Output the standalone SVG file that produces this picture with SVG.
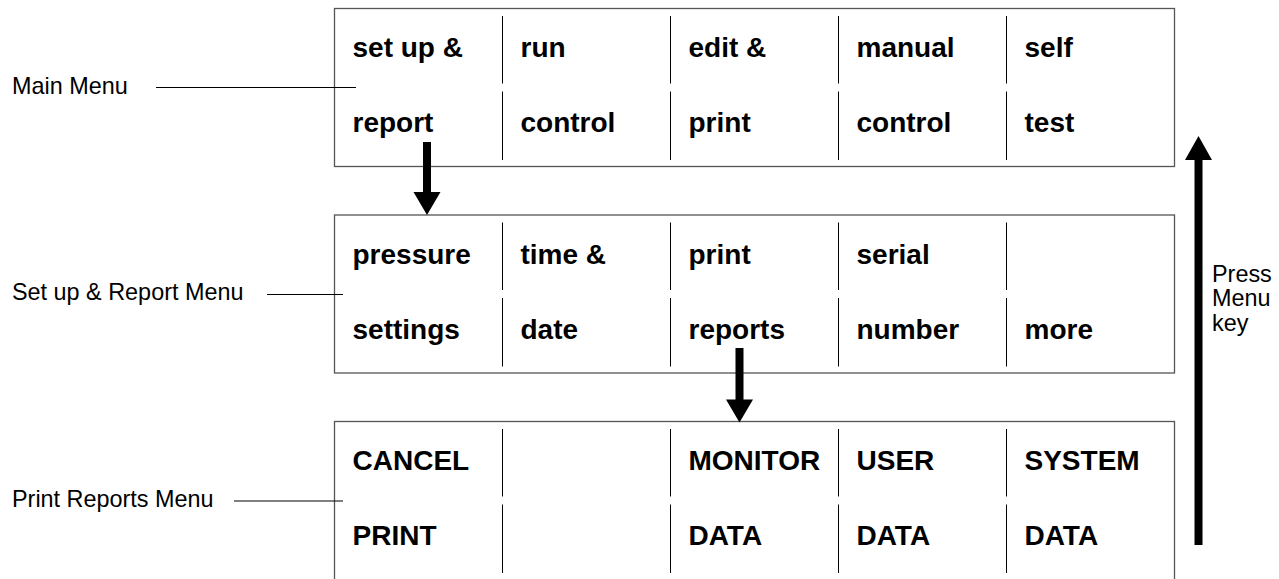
<svg xmlns="http://www.w3.org/2000/svg" width="1279" height="579" viewBox="0 0 1279 579">
  <style>
    .box { fill: #fff; stroke: #555; stroke-width: 1.3; }
    .div { stroke: #000; stroke-width: 1; }
    .key { font-family: "Liberation Sans", Arial, sans-serif; font-weight: bold; font-size: 28px; fill: #000; }
    .lbl { font-family: "Liberation Sans", Arial, sans-serif; font-size: 23.4px; fill: #000; }
    .lead { stroke: #000; stroke-width: 1.2; }
    .arr { fill: #000; }
  </style>
  <defs>
    <!-- split column dividers of a five-column softkey strip -->
    <path id="dividers" class="div" d="M502.5 7.5V75M670.5 7.5V75M838.5 7.5V75M1006.5 7.5V75M502.5 83V151.5M670.5 83V151.5M838.5 83V151.5M1006.5 83V151.5"/>
  </defs>

  <g id="main-menu">
    <rect class="box" x="334.5" y="8.5" width="840" height="158"/>
    <use href="#dividers" y="8.5"/>
    <text class="key" x="352.5" y="57">set up &amp;</text>
    <text class="key" x="520.5" y="57">run</text>
    <text class="key" x="688.5" y="57">edit &amp;</text>
    <text class="key" x="856.5" y="57">manual</text>
    <text class="key" x="1024.5" y="57">self</text>
    <text class="key" x="352.5" y="132">report</text>
    <text class="key" x="520.5" y="132">control</text>
    <text class="key" x="688.5" y="132">print</text>
    <text class="key" x="856.5" y="132">control</text>
    <text class="key" x="1024.5" y="132">test</text>
  </g>

  <g id="setup-report-menu">
    <rect class="box" x="334.5" y="215" width="840" height="158"/>
    <use href="#dividers" y="215"/>
    <text class="key" x="352.5" y="263.5">pressure</text>
    <text class="key" x="520.5" y="263.5">time &amp;</text>
    <text class="key" x="688.5" y="263.5">print</text>
    <text class="key" x="856.5" y="263.5">serial</text>
    <text class="key" x="352.5" y="338.5">settings</text>
    <text class="key" x="520.5" y="338.5">date</text>
    <text class="key" x="688.5" y="338.5">reports</text>
    <text class="key" x="856.5" y="338.5">number</text>
    <text class="key" x="1024.5" y="338.5">more</text>
  </g>

  <g id="print-reports-menu">
    <rect class="box" x="334.5" y="421.5" width="840" height="162"/>
    <use href="#dividers" y="421.5"/>
    <text class="key" x="352.5" y="470">CANCEL</text>
    <text class="key" x="688.5" y="470">MONITOR</text>
    <text class="key" x="856.5" y="470">USER</text>
    <text class="key" x="1024.5" y="470">SYSTEM</text>
    <text class="key" x="352.5" y="545">PRINT</text>
    <text class="key" x="688.5" y="545">DATA</text>
    <text class="key" x="856.5" y="545">DATA</text>
    <text class="key" x="1024.5" y="545">DATA</text>
  </g>

  <g id="labels">
    <text class="lbl" x="12" y="93.5">Main Menu</text>
    <text class="lbl" x="12" y="300">Set up &amp; Report Menu</text>
    <text class="lbl" x="12" y="506.5">Print Reports Menu</text>
    <text class="lbl" x="1212" y="281.5">Press</text>
    <text class="lbl" x="1212" y="306">Menu</text>
    <text class="lbl" x="1212" y="331">key</text>
  </g>

  <g id="connectors">
    <line class="lead" x1="156" y1="87.5" x2="356" y2="87.5"/>
    <line class="lead" x1="267" y1="294.5" x2="343" y2="294.5"/>
    <line class="lead" x1="234" y1="501" x2="343" y2="501"/>
    <!-- report -> Set up & Report Menu -->
    <path class="arr" d="M423 142H431V192H440.5L427 215L413.5 192H423Z"/>
    <!-- reports -> Print Reports Menu -->
    <path class="arr" d="M735.5 348H743.5V399.5H753L739.5 422.5L726 399.5H735.5Z"/>
    <!-- Menu key returns to Main Menu -->
    <path class="arr" d="M1194.5 545V160H1185L1198.5 136L1212 160H1202.5V545Z"/>
  </g>
</svg>
